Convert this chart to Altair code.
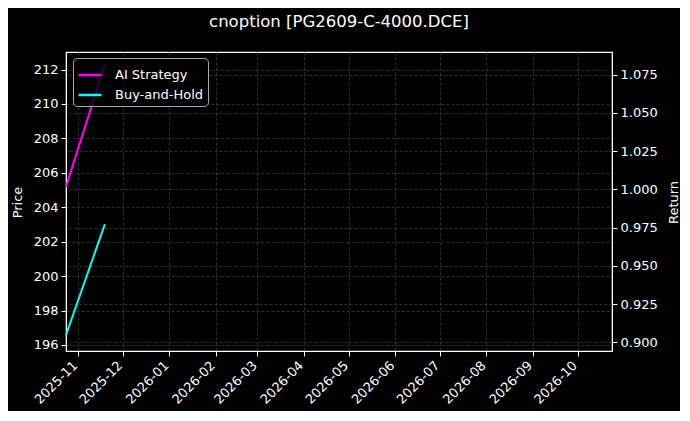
import altair as alt
import pandas as pd

# ---- data ----
ai_dates = ["2025-10-24", "2025-11-19"]
ai_return = [1.0016, 1.0817]
bh_dates = ["2025-10-24", "2025-11-19"]
bh_price = [196.58, 203.02]

series_names = ["AI Strategy", "Buy-and-Hold"]
series_colors = ["#ff00ff", "#00ffff"]

price_ticks = [196, 198, 200, 202, 204, 206, 208, 210, 212]
return_ticks = [0.900, 0.925, 0.950, 0.975, 1.000, 1.025, 1.050, 1.075]
month_ticks = [(2025, 11), (2025, 12)] + [(2026, m) for m in range(1, 11)]

ai_df = pd.DataFrame({"date": ai_dates, "value": ai_return, "series": series_names[0]})
bh_df = pd.DataFrame({"date": bh_dates, "value": bh_price, "series": series_names[1]})

FONT = "DejaVu Sans"

x_enc = alt.X(
    "date:T",
    scale=alt.Scale(
        type="utc",
        domain=[alt.DateTime(year=2025, month=10, date=24, utc=True),
                alt.DateTime(year=2026, month=10, date=24, utc=True)],
        nice=False,
    ),
    axis=alt.Axis(
        title="",
        values=[alt.DateTime(year=y, month=m, date=1, utc=True) for y, m in month_ticks],
        format="%Y-%m",
        labelAngle=315,
        labelAlign="right",
        labelBaseline="middle",
        labelPadding=7,
        labelOffset=-3,
        labelOverlap=False,
        tickSize=5,
        grid=True,
    ),
)

color_enc = alt.Color(
    "series:N",
    scale=alt.Scale(domain=series_names, range=series_colors),
    legend=alt.Legend(
        title=None,
        orient="none",
        legendX=7,
        legendY=6,
        symbolType="stroke",
        symbolStrokeWidth=2.5,
        symbolSize=529,
        labelOffset=12,
        rowPadding=0,
        padding=4,
        fillColor="rgba(0,0,0,0.8)",
        strokeColor="#aaaaaa",
        cornerRadius=4,
        labelColor="white",
        labelFontSize=13,
        labelFont=FONT,
    ),
)

price_layer = alt.Chart(bh_df).mark_line(strokeWidth=2).encode(
    x=x_enc,
    y=alt.Y(
        "value:Q",
        scale=alt.Scale(domain=[195.65, 213.02], nice=False, zero=False),
        axis=alt.Axis(
            orient="left",
            title="Price",
            values=price_ticks,
            format="d",
            tickSize=5,
            labelPadding=3,
            grid=True,
            titleX=-49,
            titleY=150,
            titleAngle=270,
            titleAlign="center",
            titleBaseline="middle",
        ),
    ),
    color=color_enc,
)

return_layer = alt.Chart(ai_df).mark_line(strokeWidth=2).encode(
    x=x_enc,
    y=alt.Y(
        "value:Q",
        scale=alt.Scale(domain=[0.8943, 1.0898], nice=False, zero=False),
        axis=alt.Axis(
            orient="right",
            title="Return",
            values=return_ticks,
            format=".3f",
            tickSize=5,
            labelPadding=3,
            grid=True,
            titleX=61,
            titleY=150,
            titleAngle=270,
            titleAlign="center",
            titleBaseline="middle",
        ),
    ),
    color=color_enc,
)

chart = (
    alt.layer(price_layer, return_layer)
    .resolve_scale(y="independent")
    .properties(
        width=546,
        height=299,
        title=alt.TitleParams(
            "cnoption [PG2609-C-4000.DCE]",
            anchor="middle",
            baseline="alphabetic",
            offset=9,
            color="white",
            fontSize=16.5,
            fontWeight="normal",
            font=FONT,
        ),
        autosize=alt.AutoSizeParams(type="none"),
        padding={"left": 58, "top": 44, "right": 68, "bottom": 60},
        background="black",
    )
    .configure_view(stroke="white", strokeWidth=1.2)
    .configure_axis(
        labelColor="white",
        titleColor="white",
        domainColor="white",
        tickColor="white",
        labelFont=FONT,
        titleFont=FONT,
        labelFontSize=13,
        titleFontSize=13,
        titleFontWeight="normal",
        gridColor="#444444",
        gridDash=[3, 2],
        gridWidth=0.7,
    )
)

chart.save("out.html", embed_options={"renderer": "svg", "actions": False})
